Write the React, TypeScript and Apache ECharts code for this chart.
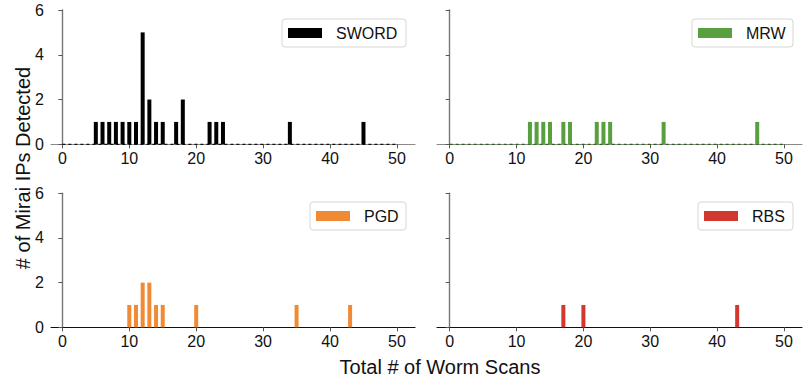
import React, { useEffect, useRef } from "react";
import * as echarts from "echarts";

// Scan-count bins (x) and number of Mirai IPs detected per bin (y)
const swordX = [5, 6, 7, 8, 9, 10, 11, 12, 13, 14, 15, 17, 18, 22, 23, 24, 34, 45];
const swordY = [1, 1, 1, 1, 1, 1, 1, 5, 2, 1, 1, 1, 2, 1, 1, 1, 1, 1];

const mrwX = [12, 13, 14, 15, 17, 18, 22, 23, 24, 32, 46];
const mrwY = [1, 1, 1, 1, 1, 1, 1, 1, 1, 1, 1];

const pgdX = [10, 11, 12, 13, 14, 15, 20, 35, 43];
const pgdY = [1, 1, 2, 2, 1, 1, 1, 1, 1];

const rbsX = [17, 20, 43];
const rbsY = [1, 1, 1];

const xTicks = [0, 10, 20, 30, 40, 50];
const yTicks = [0, 2, 4, 6];

const seriesNames = ["SWORD", "MRW", "PGD", "RBS"];
const colors = ["#000000", "#58a03f", "#f08a35", "#d3382e"];
const baseDash = ["#111111", "#2f5a22"];

const FONT = "Liberation Sans, Arial, sans-serif";

const grids = [
  { left: 51, top: 10, width: 364, height: 134.3 },
  { left: 437, top: 10, width: 365, height: 134.3 },
  { left: 51, top: 193.3, width: 364, height: 134 },
  { left: 437, top: 193.3, width: 365, height: 134 },
];

const legendBoxes = [
  { x: 282, y: 19, w: 124, h: 28 },
  { x: 692, y: 19, w: 101, h: 28 },
  { x: 310, y: 202, w: 96, h: 28 },
  { x: 698, y: 202, w: 95, h: 28 },
];

export default function App() {
  const ref = useRef<HTMLDivElement>(null);

  useEffect(() => {
    document.body.style.margin = "0";
    if (!ref.current) return;
    const chart = echarts.init(ref.current, undefined, { renderer: "svg" });

    const xs = [swordX, mrwX, pgdX, rbsX];
    const ys = [swordY, mrwY, pgdY, rbsY];

    const xAxis = grids.map((_, i) => ({
      type: "value",
      gridIndex: i,
      min: i % 2 === 0 ? -1.7 : -1.9,
      max: 52.7,
      splitLine: { show: false },
      axisLine: {
        show: true,
        lineStyle: { color: i < 2 ? "#8a8a8a" : "#111111", width: 1.2 },
      },
      axisTick: {
        show: true,
        length: 4,
        customValues: xTicks,
        lineStyle: { color: "#555555" },
      },
      axisLabel: {
        show: true,
        customValues: xTicks,
        color: "#111111",
        fontSize: 16,
        fontFamily: FONT,
        margin: 6,
      },
    }));

    const yAxis = grids.map((_, i) => ({
      type: "value",
      gridIndex: i,
      min: yTicks[0],
      max: yTicks[yTicks.length - 1],
      interval: 2,
      splitLine: { show: false },
      axisLine: { show: true, lineStyle: { color: "#777777", width: 1.4 } },
      axisTick: { show: true, length: 4, lineStyle: { color: "#555555" } },
      axisLabel: {
        show: i % 2 === 0,
        color: "#111111",
        fontSize: 16,
        fontFamily: FONT,
        margin: 7,
      },
    }));

    const series: any[] = [];
    seriesNames.forEach((name, i) => {
      series.push({
        name,
        type: "bar",
        xAxisIndex: i,
        yAxisIndex: i,
        barWidth: 4,
        itemStyle: { color: colors[i] },
        data: xs[i].map((x, k) => [x, ys[i][k]]),
      });
      if (i < 2) {
        series.push({
          name: name + "-base",
          type: "line",
          xAxisIndex: i,
          yAxisIndex: i,
          symbol: "none",
          silent: true,
          z: 1,
          lineStyle: { color: baseDash[i], width: 1.2, type: [3, 3] },
          data: [
            [0, 0],
            [50, 0],
          ],
        });
      }
    });

    const graphic: any[] = [];
    legendBoxes.forEach((b, i) => {
      graphic.push({
        type: "rect",
        shape: { x: b.x, y: b.y, width: b.w, height: b.h, r: 3 },
        style: { fill: "#ffffff", stroke: "#d6d6d6", lineWidth: 1 },
        z: 10,
      });
      graphic.push({
        type: "rect",
        shape: { x: b.x + 6, y: b.y + b.h / 2 - 5, width: 34, height: 10 },
        style: { fill: colors[i] },
        z: 11,
      });
      graphic.push({
        type: "text",
        x: b.x + 54,
        y: b.y + b.h / 2,
        style: {
          text: seriesNames[i],
          fill: "#111111",
          font: `16px ${FONT}`,
          textVerticalAlign: "middle",
          textAlign: "left",
        },
        z: 11,
      });
    });

    graphic.push({
      type: "text",
      x: 440,
      y: 367,
      style: {
        text: "Total # of Worm Scans",
        fill: "#111111",
        font: `20px ${FONT}`,
        textAlign: "center",
        textVerticalAlign: "middle",
      },
    });
    graphic.push({
      type: "text",
      x: 23,
      y: 168,
      rotation: Math.PI / 2,
      style: {
        text: "# of Mirai IPs Detected",
        fill: "#111111",
        font: `20px ${FONT}`,
        textAlign: "center",
        textVerticalAlign: "middle",
      },
    });

    chart.setOption({
      animation: false,
      backgroundColor: "#ffffff",
      grid: grids.map((g) => ({ ...g, containLabel: false })),
      xAxis,
      yAxis,
      series,
      graphic,
    });

    return () => chart.dispose();
  }, []);

  return <div ref={ref} style={{ width: 804, height: 381 }} />;
}
